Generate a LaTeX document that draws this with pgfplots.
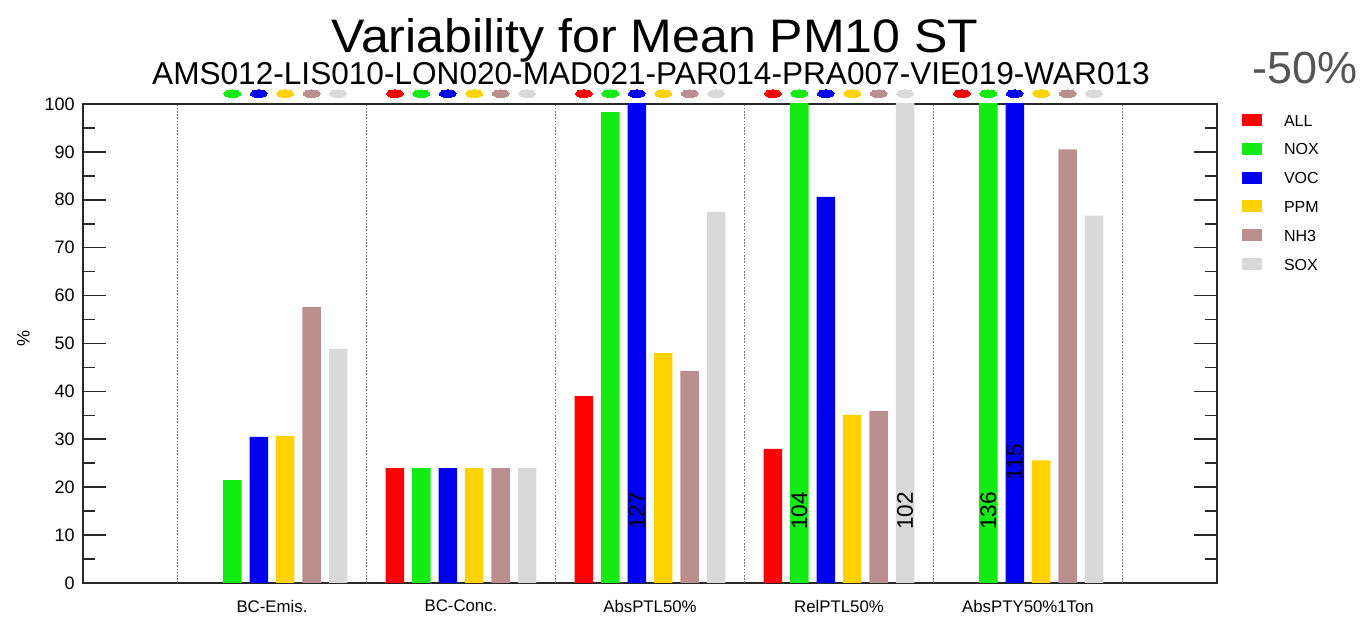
\documentclass[border=0pt]{standalone}
\usepackage{pgfplots}
\pgfplotsset{compat=1.18}
\usepackage{pgfplotstable}
\usepackage{fontspec}
\setmainfont{Liberation Sans}

\definecolor{cALL}{RGB}{255,0,0}
\definecolor{cNOX}{RGB}{20,235,20}
\definecolor{cVOC}{RGB}{0,0,240}
\definecolor{cPPM}{RGB}{255,210,0}
\definecolor{cNH3}{RGB}{188,143,143}
\definecolor{cSOX}{RGB}{217,217,217}
\definecolor{axcol}{RGB}{40,40,40}

% group index: 1 BC-Emis., 2 BC-Conc., 3 AbsPTL50%, 4 RelPTL50%, 5 AbsPTY50%1Ton
\pgfplotstableread{
x y
2 24
3 39
4 28
}\tALL
\pgfplotstableread{
x y
1 21.5
2 24
3 98.3
4 104
5 136
}\tNOX
\pgfplotstableread{
x y
1 30.5
2 24
3 127
4 80.6
5 115
}\tVOC
\pgfplotstableread{
x y
1 30.7
2 24
3 48
4 35.1
5 25.6
}\tPPM
\pgfplotstableread{
x y
1 57.6
2 24
3 44.3
4 35.9
5 90.5
}\tNHT
\pgfplotstableread{
x y
1 48.9
2 24
3 77.5
4 102
5 76.7
}\tSOX

\begin{document}
\begin{tikzpicture}
\begin{axis}[
  at={(0pt,0pt)}, anchor=south west,
  scale only axis, width=567pt, height=239.5pt,
  xmin=0, xmax=6, ymin=0, ymax=100,
  clip mode=individual,
  axis line style={line width=1.1pt, axcol},
  xtick={1,2,3,4,5},
  xticklabels={BC-Emis.,BC-Conc.,AbsPTL50\%,RelPTL50\%,AbsPTY50\%1Ton},
  xtick style={draw=none},
  xticklabel style={font=\fontsize{8.4}{10}\selectfont, yshift=-5pt},
  extra x ticks={0.5,1.5,2.5,3.5,4.5,5.5},
  extra x tick labels={},
  extra x tick style={grid=major, major tick length=0pt},
  major grid style={draw=gray!90!black, line width=0.75pt, dash pattern=on 0.8pt off 0.8pt},
  ytick={0,10,...,100},
  minor y tick num=1,
  ytick pos=both, yticklabel pos=left,
  ytick style={line width=0.8pt, axcol},
  major tick length=11.5pt, minor tick length=6pt,
  tick align=inside,
  yticklabel style={font=\fontsize{9}{10.5}\selectfont, xshift=-0.6pt},
  /pgf/number format/assume math mode=true,
  ylabel={\%},
  ylabel style={at={(axis description cs:-0.0525,0.511)}, anchor=center, font=\fontsize{9}{10}\selectfont},
  legend cell align=left,
  legend image code/.code={\fill[#1] (0pt,-3pt) rectangle (10pt,3pt);},
  legend style={at={(axis description cs:1.02205,0.9791)}, anchor=north west,
    draw=none, fill=none, inner sep=0pt, outer sep=0pt,
    row sep=8.4pt, column sep=11pt,
    font=\fontsize{8}{9.6}\selectfont,
    nodes={inner sep=0pt, text height=6pt, text depth=0pt}},
]
\addplot[ybar, bar width=0.098, bar shift=-0.35, fill=cALL, draw=none] table{\tALL};
\addplot[ybar, bar width=0.098, bar shift=-0.21, fill=cNOX, draw=none] table{\tNOX};
\addplot[ybar, bar width=0.098, bar shift=-0.07, fill=cVOC, draw=none] table{\tVOC};
\addplot[ybar, bar width=0.098, bar shift=0.07, fill=cPPM, draw=none] table{\tPPM};
\addplot[ybar, bar width=0.098, bar shift=0.21, fill=cNH3, draw=none] table{\tNHT};
\addplot[ybar, bar width=0.098, bar shift=0.35, fill=cSOX, draw=none] table{\tSOX};
\legend{ALL,NOX,VOC,PPM,NH3,SOX}

% values of bars exceeding the axis
\node[rotate=90, font=\fontsize{11.3}{13}\selectfont] at (axis cs:2.93,15) {127};
\node[rotate=90, font=\fontsize{11.3}{13}\selectfont] at (axis cs:3.79,15) {104};
\node[rotate=90, font=\fontsize{11.3}{13}\selectfont] at (axis cs:4.35,15) {102};
\node[rotate=90, font=\fontsize{11.3}{13}\selectfont] at (axis cs:4.79,15) {136};
\node[rotate=90, font=\fontsize{11.3}{13}\selectfont] at (axis cs:4.93,25.2) {115};

\node[anchor=base, inner sep=0pt, xscale=1.065, font=\fontsize{23.5}{27}\selectfont] at (axis description cs:0.5044,1.1065) {Variability for Mean PM10 ST};
\node[anchor=base, inner sep=0pt, font=\fontsize{15.8}{18}\selectfont] at (axis description cs:0.5009,1.0397) {AMS012-LIS010-LON020-MAD021-PAR014-PRA007-VIE019-WAR013};
\node[anchor=base, text={rgb,255:red,85;green,85;blue,85}, font=\fontsize{22.5}{26}\selectfont] at (axis description cs:1.0776,1.0438) {-50\%};
\end{axis}

% colour key dots above each group
\begin{axis}[
  at={(0pt,0pt)}, anchor=south west,
  scale only axis, width=567pt, height=239.5pt,
  xmin=0, xmax=6, ymin=0, ymax=100,
  hide axis, clip=false,
]
\addplot[only marks, color=cALL, mark=*, mark size=1.9pt, mark options={fill=cALL, line width=0pt, xscale=2.2}] coordinates {(1.65,102.15) (2.65,102.15) (3.65,102.15) (4.65,102.15)};
\addplot[only marks, color=cNOX, mark=*, mark size=1.9pt, mark options={fill=cNOX, line width=0pt, xscale=2.2}] coordinates {(0.79,102.15) (1.79,102.15) (2.79,102.15) (3.79,102.15) (4.79,102.15)};
\addplot[only marks, color=cVOC, mark=*, mark size=1.9pt, mark options={fill=cVOC, line width=0pt, xscale=2.2}] coordinates {(0.93,102.15) (1.93,102.15) (2.93,102.15) (3.93,102.15) (4.93,102.15)};
\addplot[only marks, color=cPPM, mark=*, mark size=1.9pt, mark options={fill=cPPM, line width=0pt, xscale=2.2}] coordinates {(1.07,102.15) (2.07,102.15) (3.07,102.15) (4.07,102.15) (5.07,102.15)};
\addplot[only marks, color=cNH3, mark=*, mark size=1.9pt, mark options={fill=cNH3, line width=0pt, xscale=2.2}] coordinates {(1.21,102.15) (2.21,102.15) (3.21,102.15) (4.21,102.15) (5.21,102.15)};
\addplot[only marks, color=cSOX, mark=*, mark size=1.9pt, mark options={fill=cSOX, line width=0pt, xscale=2.2}] coordinates {(1.35,102.15) (2.35,102.15) (3.35,102.15) (4.35,102.15) (5.35,102.15)};
\end{axis}
\pgfresetboundingbox
\useasboundingbox (-41.5pt,-18pt) rectangle (642pt,291.5pt);
\end{tikzpicture}
\end{document}
